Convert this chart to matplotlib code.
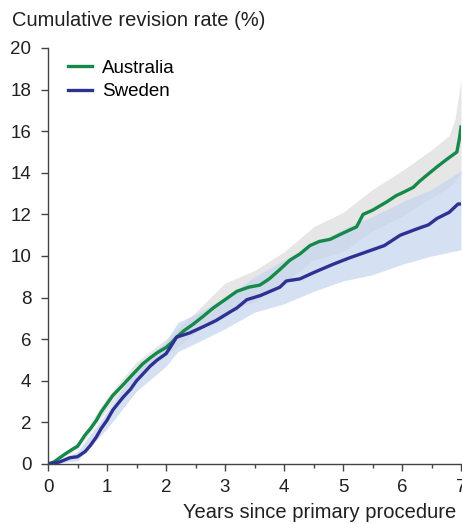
import matplotlib
matplotlib.use('Agg')
import matplotlib.pyplot as plt
from matplotlib.ticker import MultipleLocator

plt.rcParams.update({'font.family': 'Liberation Sans', 'font.size': 13})

# Australia (Kaplan-Meier estimate)
aus_x = [0, 0.1, 0.2, 0.3, 0.42, 0.5, 0.63, 0.72, 0.82, 0.9, 1.0, 1.1, 1.27, 1.4, 1.5,
         1.6, 1.73, 1.85, 2.0, 2.1, 2.18, 2.3, 2.45, 2.63, 2.8, 3.0, 3.2, 3.4, 3.59,
         3.75, 3.93, 4.1, 4.27, 4.44, 4.6, 4.78, 5.0, 5.23, 5.34, 5.5, 5.74, 5.9,
         6.05, 6.19, 6.3, 6.47, 6.6, 6.76, 6.93, 6.97, 7.0]
aus_y = [0, 0.1, 0.3, 0.5, 0.72, 0.85, 1.4, 1.7, 2.1, 2.5, 2.9, 3.3, 3.8, 4.2, 4.5,
         4.8, 5.1, 5.35, 5.6, 5.85, 6.1, 6.4, 6.7, 7.1, 7.5, 7.9, 8.3, 8.5, 8.6,
         8.9, 9.35, 9.8, 10.1, 10.5, 10.7, 10.8, 11.1, 11.4, 12.0, 12.2, 12.6, 12.9,
         13.1, 13.3, 13.6, 14.0, 14.3, 14.65, 15.0, 15.6, 16.2]

# Sweden
swe_x = [0, 0.2, 0.37, 0.5, 0.63, 0.72, 0.82, 0.9, 1.0, 1.1, 1.27, 1.4, 1.5, 1.6,
         1.73, 1.85, 2.0, 2.07, 2.18, 2.4, 2.63, 2.85, 3.08, 3.2, 3.37, 3.6, 3.93,
         4.04, 4.27, 4.5, 4.83, 5.1, 5.4, 5.7, 5.97, 6.25, 6.45, 6.59, 6.8, 6.95, 7.0]
swe_y = [0, 0.1, 0.3, 0.35, 0.6, 0.9, 1.3, 1.7, 2.1, 2.6, 3.2, 3.6, 4.0, 4.3,
         4.7, 5.0, 5.3, 5.6, 6.1, 6.3, 6.6, 6.9, 7.3, 7.5, 7.9, 8.1, 8.5,
         8.8, 8.9, 9.2, 9.6, 9.9, 10.2, 10.5, 11.0, 11.3, 11.5, 11.8, 12.1, 12.5, 12.5]

# 95% confidence bands
aus_band_x = [0, 0.5, 1, 1.5, 2, 2.5, 3, 3.5, 4, 4.5, 5, 5.5, 6, 6.5, 6.8, 6.9, 7.0]
aus_lo = [0, 0.7, 2.6, 4.2, 5.2, 6.3, 7.3, 7.8, 8.7, 9.8, 10.2, 11.2, 11.9, 12.8, 13.3, 13.6, 14.0]
aus_hi = [0, 1.0, 3.2, 4.9, 6.0, 7.3, 8.7, 9.3, 10.2, 11.4, 12.1, 13.2, 14.1, 15.1, 15.8, 16.6, 18.5]

swe_band_x = [0, 0.5, 1, 1.5, 2, 2.2, 2.5, 3, 3.5, 4, 4.5, 5, 5.5, 6, 6.5, 7.0]
swe_lo = [0, 0.15, 1.7, 3.5, 4.7, 5.4, 5.8, 6.5, 7.3, 7.7, 8.3, 8.8, 9.1, 9.6, 10.0, 10.3]
swe_hi = [0, 0.6, 2.5, 4.6, 5.9, 6.8, 7.2, 8.0, 9.0, 9.8, 10.5, 11.3, 11.9, 12.6, 13.2, 14.1]

green = '#15894a'
blue = '#2e3192'
ink = '#231f20'

fig = plt.figure(figsize=(4.62, 5.24), dpi=100)
ax = fig.add_axes([48 / 462, 60 / 524, 413 / 462, 416 / 524])

ax.fill_between(aus_band_x, aus_lo, aus_hi, color='#e6e6e6', lw=0)
ax.fill_between(swe_band_x, swe_lo, swe_hi, color='#c6d6ee', alpha=0.72, lw=0)
ax.plot(aus_x, aus_y, color=green, lw=2.4, label='Australia')
ax.plot(swe_x, swe_y, color=blue, lw=2.4, label='Sweden')

ax.set_xlim(0, 7)
ax.set_ylim(0, 20)
ax.xaxis.set_major_locator(MultipleLocator(1))
ax.xaxis.set_minor_locator(MultipleLocator(0.5))
ax.yaxis.set_major_locator(MultipleLocator(2))
for s in ['top', 'right']:
    ax.spines[s].set_visible(False)
for s in ['left', 'bottom']:
    ax.spines[s].set_color('#444444')
    ax.spines[s].set_linewidth(1.0)
ax.tick_params(axis='both', which='major', length=5, width=1, color='#444444',
               labelsize=13.5, labelcolor=ink)
ax.tick_params(axis='x', which='minor', length=3, width=1, color='#444444')
ax.tick_params(axis='x', pad=6)
ax.tick_params(axis='y', pad=7)

ax.legend(loc='upper left', bbox_to_anchor=(0.03, 0.99), frameon=False, fontsize=13.5,
          handlelength=1.3, handletextpad=0.5, labelspacing=0.35, borderaxespad=0)

fig.text(12 / 462, 1 - 20 / 524, 'Cumulative revision rate (%)', fontsize=14.5, color=ink,
         va='center', ha='left')
fig.text(183 / 462, 1 - 512 / 524, 'Years since primary procedure', fontsize=14.5, color=ink,
         va='center', ha='left')

fig.savefig('out.png', dpi=100)
